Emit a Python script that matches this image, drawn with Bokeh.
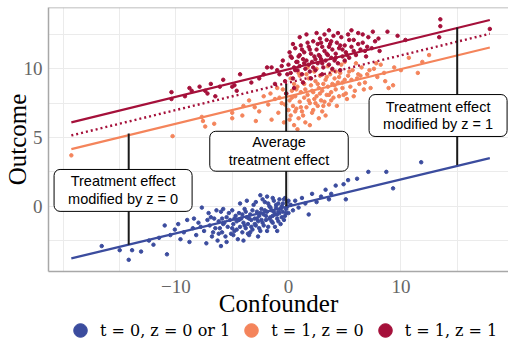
import math
from bokeh.plotting import figure
from bokeh.layouts import column
from bokeh.models import Range1d, FixedTicker, Label, Legend, LegendItem, Span
from bokeh.embed import file_html
from bokeh.resources import INLINE

# ---- data ----
blue_pts = [
    (-16.6,-2.9),(-14.2,-3.9),(-13.9,-3.2),(-13.1,-3.3),(-12.4,-2.5),(-11.5,-2.3),(-11.0,-1.4),(-10.8,-3.5),
    (-10.1,-1.7),(-9.6,-2.4),(-9.3,-1.9),(-9.0,-1.0),(-8.8,-2.6),(-8.5,-1.6),(-8.2,-2.1),(-8.0,-1.2),
    (-7.7,-0.1),(-7.5,-1.8),(-7.3,-2.7),(-7.1,-0.5),(-7.0,-1.4),(-6.8,-2.2),(-6.6,-0.9),(-6.5,-1.6),
    (-6.3,-2.5),(-6.2,-1.1),(-6.0,-0.4),(-5.9,-1.9),(-5.8,-1.3),(-5.6,-2.2),(-5.5,-0.8),(-5.4,-1.5),
    (-5.2,-1.0),(-5.1,-2.0),(-5.0,-0.3),(-4.9,-1.3),(-4.8,-1.8),(-4.7,-0.7),(-4.6,-1.1),(-4.5,-2.4),
    (-4.4,-0.5),(-4.3,-1.5),(-4.2,-0.9),(-4.1,-1.9),(-4.0,-1.2),(-3.9,-0.2),(-3.8,-1.6),(-3.7,-0.8),
    (-3.6,-1.3),(-3.5,-2.1),(-3.4,-0.6),(-3.3,-1.0),(-3.2,-1.7),(-3.1,0.1),(-3.0,-0.9),(-2.9,-1.4),
    (-2.8,-0.4),(-2.7,-1.1),(-2.6,-0.7),(-2.5,-1.8),(-2.4,-0.2),(-2.3,-1.2),(-2.2,-0.6),(-2.1,0.3),
    (-2.0,-1.0),(-1.9,-0.4),(-1.8,-1.5),(-1.7,0.0),(-1.6,-0.8),(-1.5,-0.3),(-1.4,-1.2),(-1.3,0.4),
    (-1.2,-0.6),(-1.1,-0.1),(-1.0,-0.9),(-0.9,0.2),(-0.8,-0.5),(-0.7,-1.3),(-0.6,0.0),(-0.5,-0.4),
    (-0.4,0.5),(-0.3,-0.7),(-0.2,-0.2),(-0.1,0.3),(0.0,-0.5),(0.2,0.1),(0.4,-0.3),(0.6,0.4),
    (0.9,-0.1),(1.2,0.6),(1.5,0.2),(1.8,-0.6),(2.1,0.9),(2.5,0.3),(2.9,0.7),(3.3,1.2),
    (3.6,0.5),(3.8,0.9),(4.2,1.5),(4.9,1.6),(5.1,0.5),(5.3,1.9),(6.1,2.0),(7.1,2.5),
    (8.7,2.5),(9.3,1.3),(11.8,3.2),
    (-6.9,-0.8),(-6.7,-1.9),(-6.4,-0.3),(-6.1,-1.6),(-5.9,-0.9),(-5.7,-1.2),(-5.5,-2.6),(-5.3,-0.5),
    (-5.0,-1.6),(-4.8,-0.9),(-4.6,-1.7),(-4.4,-1.0),(-4.3,0.2),(-4.1,-0.6),(-3.9,-1.4),(-3.8,-0.4),
    (-3.6,-2.0),(-3.5,-0.9),(-3.3,-1.5),(-3.2,-0.3),(-3.0,-1.3),(-2.9,0.3),(-2.8,-0.9),(-2.6,-1.6),
    (-2.5,-0.5),(-2.4,-1.0),(-2.3,0.5),(-2.2,-1.4),(-2.1,-0.3),(-2.0,-0.7),(-1.9,-1.8),(-1.8,0.2),
    (-1.7,-0.9),(-1.6,-0.1),(-1.5,-1.1),(-1.4,0.6),(-1.3,-0.4),(-1.2,-1.5),(-1.1,0.1),(-1.0,-0.6),
    (-0.9,-1.1),(-0.8,0.5),(-0.7,-0.2),(-0.6,-0.8),(-0.5,0.2),(-0.4,-1.0),(-0.3,0.6),(-0.2,-0.5),
    (-0.1,0.0),(0.0,0.4),(-3.4,-1.9),(-2.7,-2.2),(-4.9,-2.1),(-3.7,0.4),(-1.9,0.7),(-2.5,0.8),
    (-0.9,-0.4),(-1.4,-0.7),(-5.8,-0.2),(-6.2,-2.0),(-7.2,-1.0),(-7.8,-1.5),(-8.4,-0.9),(-9.8,-1.3),
    (-10.5,-2.1),(-12.0,-2.8),(-15.0,-3.2),(-6.0,-2.9),(-4.0,-2.5),(-1.0,-1.8),
]

orange_pts = [
    (-19.3,3.7),(-10.3,5.1),(-7.7,6.5),(-7.6,6.2),(-7.4,5.8),(-6.6,6.0),(-5.0,6.4),(-5.0,6.8),
    (-4.1,6.6),(-4.0,7.3),(-3.0,7.2),(-2.6,6.9),(-1.8,7.4),(-1.5,6.3),(-1.2,7.8),(-0.9,6.8),
    (-0.6,7.5),(-0.4,6.1),(-0.2,8.2),(0.0,7.0),(0.1,7.7),(0.2,6.6),(0.3,8.4),(0.4,7.3),
    (0.5,5.9),(0.6,8.0),(0.7,7.1),(0.8,8.7),(0.9,6.4),(1.0,7.6),(1.1,8.3),(1.2,6.9),
    (1.3,9.0),(1.4,7.9),(1.5,8.5),(1.6,7.2),(1.7,8.1),(1.8,9.3),(1.9,7.5),(2.0,8.8),
    (2.1,6.8),(2.2,8.3),(2.3,7.8),(2.4,9.1),(2.5,8.0),(2.6,7.3),(2.7,8.6),(2.8,9.5),
    (2.9,7.7),(3.0,8.4),(3.1,8.9),(3.2,7.6),(3.3,9.2),(3.4,8.1),(3.5,8.7),(3.6,7.4),
    (3.7,9.6),(3.8,8.3),(3.9,8.9),(4.0,7.9),(4.1,9.3),(4.2,8.5),(4.4,9.0),(4.5,8.0),
    (4.6,9.7),(4.8,8.6),(5.0,9.2),(5.1,8.2),(5.3,9.5),(5.5,8.7),(5.7,9.9),(5.9,8.4),
    (6.1,9.3),(6.3,8.9),(6.5,10.1),(6.8,9.0),(7.0,9.6),(7.3,8.6),(7.6,10.0),(7.9,9.4),
    (8.2,10.3),(8.6,9.1),(8.9,8.6),(9.3,8.8),(9.4,10.1),(10.0,9.9),(10.7,10.8),(11.5,9.7),
    (11.9,10.5),(12.5,11.0),(0.5,8.9),(1.5,6.1),(2.5,10.0),(3.0,6.9),(-0.5,8.5),(1.0,9.5),
    (2.2,7.0),(3.5,10.2),(4.3,7.3),(-1.0,8.6),(0.2,9.3),(5.2,7.8),(6.0,10.4),(2.7,6.4),
    (1.7,10.1),(-2.2,8.0),(4.7,10.3),(3.3,6.6),(0.8,5.6),(1.9,5.9),
    (0.3,7.9),(0.7,8.5),(1.1,7.2),(1.4,8.9),(1.8,7.7),(2.1,8.4),(2.4,7.5),(2.8,8.2),
    (3.1,7.3),(3.4,9.4),(3.8,7.7),(4.1,8.8),(4.5,9.4),(4.9,8.1),(5.4,9.8),(5.8,8.0),
    (6.2,9.6),(6.7,8.5),(7.2,9.9),(0.1,6.3),(0.9,9.7),(1.6,9.6),(2.3,9.8),(3.6,8.1),
    (4.2,9.8),(4.8,9.0),(5.6,9.2),(6.4,9.5),(7.8,10.4),(8.5,9.7),(-0.3,7.4),(-0.8,7.9),
    (-1.6,8.2),(-2.9,6.2),(-3.5,7.7),(0.6,6.9),(1.3,6.6),(2.6,8.9),(3.9,9.9),(5.0,10.5),
]

red_pts = [
    (-10.4,8.3),(-10.4,7.8),(-8.8,8.6),(-8.6,8.4),(-7.9,8.7),(-7.4,8.4),(-7.2,8.2),(-6.5,8.0),
    (-6.1,8.7),(-5.0,8.7),(-4.8,8.8),(-4.6,8.4),(-4.3,9.6),(-2.6,9.3),(-1.9,10.1),(-1.5,10.1),
    (-1.2,8.9),(-0.8,9.6),(-0.5,10.6),(-0.3,9.1),(0.0,10.3),(0.1,11.2),(0.2,9.7),(0.3,10.8),
    (0.4,9.3),(0.5,10.1),(0.6,11.5),(0.7,10.5),(0.8,9.9),(0.9,10.9),(1.0,10.2),(1.1,11.7),
    (1.2,9.6),(1.3,10.7),(1.4,11.2),(1.5,10.0),(1.6,10.6),(1.7,11.9),(1.8,10.3),(1.9,9.8),
    (2.0,11.1),(2.1,10.5),(2.2,12.0),(2.3,10.9),(2.4,9.9),(2.5,11.4),(2.6,10.4),(2.7,11.0),
    (2.8,12.2),(2.9,10.7),(3.0,11.6),(3.1,10.1),(3.2,11.3),(3.3,10.6),(3.4,12.1),(3.5,11.0),
    (3.6,10.3),(3.7,11.8),(3.8,10.8),(3.9,11.4),(4.0,12.4),(4.1,10.6),(4.2,11.1),(4.3,11.9),
    (4.4,10.4),(4.5,11.5),(4.7,12.3),(4.8,10.9),(5.0,11.7),(5.1,11.2),(5.3,12.5),(5.4,10.8),
    (5.6,11.6),(5.8,12.1),(6.0,11.0),(6.2,12.6),(6.4,11.4),(6.6,11.9),(6.9,10.9),(7.1,12.3),
    (7.4,11.5),(7.7,12.0),(8.1,11.3),(8.8,12.7),(9.7,12.4),(10.4,12.1),(13.4,12.3),(13.5,13.1),
    (13.5,13.6),(17.9,12.9),(0.5,8.6),(-0.2,8.2),(1.3,9.0),(2.0,9.3),(3.0,9.6),(1.0,12.3),
    (2.5,12.6),(3.6,12.8),(4.6,9.9),(0.8,10.5),(1.9,11.4),(2.9,11.9),(3.9,10.0),
    (0.2,10.9),(0.6,9.9),(1.0,11.0),(1.4,10.4),(1.8,11.6),(2.2,10.1),(2.6,11.8),(3.0,10.4),
    (3.4,11.1),(3.8,12.0),(4.2,10.8),(4.6,11.7),(5.0,10.6),(5.4,12.1),(5.8,11.3),(6.2,11.8),
    (6.6,12.5),(7.0,11.6),(7.5,12.7),(8.0,12.2),(-0.6,10.2),(-1.0,9.9),(-0.1,9.6),(0.4,11.8),
    (1.6,12.5),(2.4,10.7),(3.2,12.5),(4.4,12.6),(5.2,11.0),(6.8,11.3),(-3.3,9.0),(-2.2,9.6),
    (-5.8,9.2),(-6.9,8.9),(-9.2,8.0),(1.2,11.4),(2.8,10.9),(3.6,11.6),(4.8,11.4),(5.6,12.8),
]

fit_x = [-19.3, 17.9]
fit_blue = [-3.8, 3.5]
fit_orange = [4.15, 11.55]
fit_avg = [5.15, 12.55]
fit_red = [6.1, 13.55]

seg_x = [-14.2, -0.2, 15.0]
seg_lo = [-2.8, 0.0, 3.0]
seg_hi = [5.3, 8.9, 13.0]

label_x = [-14.7, -0.84, 13.3]
label_y = [1.15, 4.0, 6.6]
label_text = ["Treatment effect\nmodified by z = 0",
              "Average\ntreatment effect",
              "Treatment effect\nmodified by z = 1"]

legend_labels = ["t = 0, z = 0 or 1", "t = 1, z = 0", "t = 1, z = 1"]
x_ticks = [-10, 0, 10]
y_ticks = [0, 5, 10]
x_grid = [-20, -15, -10, -5, 0, 5, 10, 15]
y_grid = [-2.5, 0, 2.5, 5, 7.5, 10, 12.5]

BLUE = "#3B4C9E"
ORANGE = "#F4845B"
RED = "#A5103A"

X0, X1 = -21.33, 19.56
Y0, Y1 = -4.75, 14.46

p = figure(width=508, height=319, output_backend="svg", toolbar_location=None,
           x_range=Range1d(X0, X1), y_range=Range1d(Y0, Y1),
           min_border_left=48, min_border_right=0, min_border_top=7, min_border_bottom=45)
p.background_fill_color = "white"
p.border_fill_color = "white"
p.outline_line_color = None

for ax, ticks in ((p.xaxis[0], x_ticks), (p.yaxis[0], y_ticks)):
    ax.ticker = FixedTicker(ticks=ticks)
    ax.major_tick_line_color = None
    ax.minor_tick_line_color = None
    ax.axis_line_color = "#A8A8A8"
    ax.axis_line_width = 1.5
    ax.major_label_text_font = "Liberation Serif"
    ax.major_label_text_font_size = "19px"
    ax.major_label_text_color = "#666666"
    ax.major_label_standoff = 0
    ax.axis_label_text_font = "Liberation Serif"
    ax.axis_label_text_font_size = "25px"
    ax.axis_label_text_color = "black"
    ax.axis_label_text_font_style = "normal"

p.xaxis.major_label_standoff = 2
p.xaxis.axis_label = "Confounder"
p.xaxis.axis_label_standoff = -6
p.yaxis.axis_label = "Outcome"
p.yaxis.axis_label_standoff = -10

p.xgrid.ticker = FixedTicker(ticks=x_grid)
p.ygrid.ticker = FixedTicker(ticks=y_grid)
p.xgrid.grid_line_color = "#EBEBEB"
p.ygrid.grid_line_color = "#EBEBEB"

p.add_layout(Span(location=Y1, dimension="width", line_color="#A8A8A8", line_width=1.5))

def unzip(pts):
    return [a for a, _ in pts], [b for _, b in pts]

bx, by = unzip(blue_pts)
ox, oy = unzip(orange_pts)
rx, ry = unzip(red_pts)

p.scatter(bx, by, size=3.5, color=BLUE)
p.scatter(ox, oy, size=3.5, color=ORANGE)
p.scatter(rx, ry, size=3.5, color=RED)

p.line(fit_x, fit_blue, line_color=BLUE, line_width=2.2)
p.line(fit_x, fit_orange, line_color=ORANGE, line_width=2.2)
p.line(fit_x, fit_red, line_color=RED, line_width=2.2)
p.line(fit_x, fit_avg, line_color=RED, line_width=2.4, line_dash="2 3")

p.segment(x0=seg_x, y0=seg_lo, x1=seg_x, y1=seg_hi, line_color="#1A1A1A", line_width=2)

pads = [(14, 4), (19, 3), (14, 4)]
for lx, ly, lt, pd in zip(label_x, label_y, label_text, pads):
    p.add_layout(Label(x=lx, y=ly, text=lt, text_align="center", text_baseline="middle",
                       text_font="Liberation Sans", text_font_size="14.5px", text_color="black",
                       text_line_height=1.12,
                       background_fill_color="white", border_line_color="black",
                       border_line_width=1, border_radius=6, padding=pd))

# legend row below the plot (same data, drawn out of this view's range; only the legend shows)
leg = figure(width=508, height=22, output_backend="svg", toolbar_location=None,
             x_axis_location=None, y_axis_location=None,
             x_range=Range1d(100, 101), y_range=Range1d(100, 101),
             min_border_left=0, min_border_right=0, min_border_top=0, min_border_bottom=0)
leg.grid.visible = False
leg.outline_line_color = None
leg.background_fill_color = "white"
leg.border_fill_color = "white"
lr_blue = leg.scatter(bx, by, color=BLUE)
lr_orange = leg.scatter(ox, oy, color=ORANGE)
lr_red = leg.scatter(rx, ry, color=RED)

legend = Legend(items=[LegendItem(label=legend_labels[0], renderers=[lr_blue]),
                       LegendItem(label=legend_labels[1], renderers=[lr_orange]),
                       LegendItem(label=legend_labels[2], renderers=[lr_red])],
                orientation="horizontal", location=(15, -6),
                glyph_width=34, glyph_height=34, label_standoff=3, spacing=4,
                padding=0, margin=0, border_line_color=None, background_fill_alpha=0,
                label_text_font="DejaVu Serif", label_text_font_size="16px",
                label_text_color="black")
leg.add_layout(legend, "center")

layout = column(p, leg, spacing=0)
open("out.html", "w").write(file_html(layout, INLINE))
